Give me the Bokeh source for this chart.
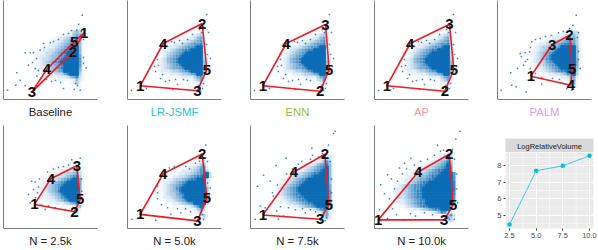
from bokeh.embed import file_html
from bokeh.resources import INLINE
from bokeh.core.properties import value
from bokeh.models import Range1d, Title
from bokeh.layouts import column, row
from bokeh.plotting import figure

titles = ["Baseline", "LR-JSMF", "ENN", "AP", "PALM",
          "N = 2.5k", "N = 5.0k", "N = 7.5k", "N = 10.0k"]
title_colors = ["#222222", "#2fc6ca", "#98bc3c", "#f99a94", "#d49ffb",
                "#222222", "#222222", "#222222", "#222222"]
title_shift = [0, 0, 0, 0, 0, 3.5, 3.5, 3.5, 3.5]

vertices = [
    {1: (80.7, 67), 2: (69.4, 47.6), 3: (28.4, 7.6), 4: (43.4, 30.3), 5: (70.7, 57.6)},
    {1: (12.7, 13.7), 2: (74.7, 76), 3: (70, 8.7), 4: (35.7, 56), 5: (79.3, 30)},
    {1: (12.3, 13.7), 2: (69.7, 8.3), 3: (75, 75), 4: (35.7, 56), 5: (78.7, 30)},
    {1: (12.3, 13.7), 2: (70.3, 8.3), 3: (75, 75.3), 4: (35.7, 56), 5: (79.3, 30)},
    {1: (33.3, 23.3), 2: (72, 64.3), 3: (54.7, 55), 4: (73.3, 14.3), 5: (74.7, 31)},
    {1: (31, 24.3), 2: (71, 17), 3: (73.3, 63.3), 4: (47.3, 50.3), 5: (76.7, 29.3)},
    {1: (12.7, 14.3), 2: (74.7, 75.3), 3: (70, 7.7), 4: (35.7, 55.3), 5: (79.3, 30.3)},
    {1: (12.3, 13.7), 2: (74.3, 75), 3: (69.7, 9.3), 4: (43.3, 57), 5: (78.3, 23.7)},
    {1: (3.7, 8.7), 2: (74.7, 75), 3: (69.7, 8.7), 4: (43.7, 57), 5: (78.7, 23.7)},
]
hull_orders = [
    [1, 2, 3, 4, 5, 1], [1, 3, 5, 2, 4, 1], [1, 2, 5, 3, 4, 1], [1, 2, 5, 3, 4, 1],
    [1, 4, 5, 2, 3, 1], [1, 2, 5, 3, 4, 1], [1, 3, 5, 2, 4, 1], [1, 3, 5, 2, 4, 1],
    [1, 3, 5, 2, 4, 1],
]

# point density of each cloud, 0 (empty) to 9 (solid), in 3-unit cells.
# Each entry is {row's lower edge y: digits}; digit i covers x = 15 + 3*i .. 18 + 3*i
dens_base = {
    69: "00000000000000000012210", 66: "00000000000000011245410", 63: "00000000000001112256510",
    60: "00000000000112234578610", 57: "00000000001122345678610", 54: "00000000011223456788510",
    51: "00000000112234567889510", 48: "00000001223345678999510", 45: "00000011233456789999510",
    42: "00000012234556789999610", 39: "00000012334567899999710", 36: "00000112345678999999710",
    33: "00000112334567899999710", 30: "00000012234567899999610", 27: "00000001223456799999510",
    24: "00000000112233468999410", 21: "00000000001112223568310", 18: "00000000000001111125210",
    15: "00000000000000000124100", 12: "00000000000000000012100",
}
dens_a = {
    69: "00000000000000000000110", 66: "00000000000000000012100", 63: "00000000000000001234100",
    60: "00000000000001112356200", 57: "00000000001112234567200", 54: "00000000011223456778300",
    51: "00000000122345677899300", 48: "00000001234567889999200", 45: "00000012345678999999300",
    42: "00000012456789999999300", 39: "00000123567899999999410", 36: "00000123567899999999510",
    33: "00000123456789999999510", 30: "00001123456678999999610", 27: "00000122234456789999500",
    24: "00000011122234456799300", 21: "00000000111112222467200", 18: "00000000000001111346100",
    15: "00000000000000000123100", 12: "00000000000000000012000",
}
dens_c = {
    69: "000000000000000000011", 66: "00000000000000001112331", 63: "00000000000011112234531",
    60: "00000000001112223345641", 57: "00000000011223345677641", 54: "00000000122344567888741",
    51: "00000001234456679999951", 48: "00000001234567899999951", 45: "00000012345678999999951",
    42: "00000012345689999999951", 39: "00000012345789999999961", 36: "00000012344678999999961",
    33: "00000001234567899999961", 30: "00000001223456789999951", 27: "00000000122345678899941",
    24: "00000000001122334578941", 21: "00000000000011112235620", 18: "00000000000000000124610",
    15: "00000000000000000013510", 12: "0000000000000000000141",
}
dens_d = {
    63: "000000000000000001121", 60: "000000000000001112231", 57: "0000000000001122334421",
    54: "0000000000112223445631", 51: "0000000001122334567841", 48: "0000000011233456789961",
    45: "0000000122345678999961", 42: "0000001123456789999961", 39: "0000001223456799999961",
    36: "0000001223456899999951", 33: "0000000122345689999951", 30: "0000000112234578999951",
    27: "0000000011223457899941", 24: "0000000000112223456821", 21: "0000000000000011112451",
    18: "000000000000000001241", 15: "000000000000000000131",
}
dens_e = {
    69: "0000000000000000000121", 66: "0000000000000000001231", 63: "0000000000000000112451",
    60: "0000000000000112234672", 57: "0000000000011222345783", 54: "00000000011122334567893",
    51: "00000000112233456788993", 48: "00000001223445678899931", 45: "00000012234567899999931",
    42: "00000012345678999999931", 39: "00000012345789999999951", 36: "00000112345689999999951",
    33: "00000112344678999999951", 30: "00000012234568999999961", 27: "00000001223456899999961",
    24: "00000000112234567999941", 21: "0000000000111122357941", 18: "000000000000011112463",
    15: "000000000000000001251", 12: "00000000000000000012410", 9: "0000000000000000000131",
}
dens_f = {
    72: "00000000000000000001221", 69: "00000000000000000112431", 66: "00000000000000011235741",
    63: "00000000000001123567851", 60: "00000000000112345678951", 57: "00000000011223456789951",
    54: "00000001122345678899951", 51: "00000011234456789999951", 48: "00000112345678999999951",
    45: "00001123456789999999951", 42: "00011234567899999999961", 39: "00012345678999999999961",
    36: "00012345678999999999971", 33: "00012345678899999999971", 30: "00001234567889999999971",
    27: "00001223456788999999971", 24: "00000112334567889999961", 21: "00000001122345678999951",
    18: "00000000000111223578410", 15: "00000000000000011236620", 12: "00000000000000000125620", 9: "0000000000000000001342",
}
dens_g = {
    75: "0000000000000000001221", 72: "0000000000000000113431", 69: "0000000000000011234631",
    66: "0000000000001123456851", 63: "0000000000112234567961", 60: "0000000011223345678971",
    57: "0000001122334567889971", 54: "00000112233456778999971", 51: "00001122345567889999971",
    48: "00011223456678899999971", 45: "00111234567889999999981", 42: "01123456778899999999981",
    39: "01223456778999999999981", 36: "01223456788999999999981", 33: "01223456788999999999981",
    30: "01233456788999999999971", 27: "01122345678899999999971", 24: "00122345678899999999961",
    21: "00011234567889999999510", 18: "00000111223456788999410", 15: "00000000001111235872100",
    12: "00000000000000111124730", 9: "0000000000000000012641", 6: "0000000000000000000132",
}

# single dots that stand apart from the dense part of each cloud
pts_base = [(4, 9.3), (12.3, 14.3), (21.7, 13.7), (13.3, 26.7), (21.7, 46.7), (26.7, 47), (30, 46.7), (78.7, 84.3), (75.3, 75.3),
            (82.7, 31.7), (76.7, 9.3), (70.7, 10), (60, 11), (33.3, 23.3), (25, 34.3), (31.7, 31), (40, 56), (46.7, 56.7), (36.7, 49.3),
            (65, 66), (73.3, 69.3), (16.7, 19.3), (29, 37), (33, 41), (35, 29), (38, 22), (43, 20), (48, 18), (52, 19), (57, 17),
            (41, 52), (50, 58), (55, 60), (60, 65), (68, 69), (78, 68), (80, 60), (80, 42), (80, 36), (74, 14), (72, 16)]
pts_a = [(79, 85), (81, 67), (76, 73), (4, 9), (50, 15), (45, 10), (19, 11), (44, 58), (55, 56), (28, 28), (33, 21), (38, 18),
         (73, 9), (82, 33), (83, 41), (30, 40), (40, 53), (31, 34), (35, 25), (27, 33), (30, 46), (34, 52), (47, 57), (52, 59),
         (60, 60), (65, 65), (72, 70), (74, 67), (79, 55), (80, 45), (79, 28), (76, 16), (71, 14), (75, 11), (56, 20), (60, 19), (48, 20), (42, 19)]
pts_c = [(78.7, 84.3), (75.3, 74.3), (81, 66.7), (61, 66.7), (42.7, 61), (34.3, 57.7), (22.7, 46), (27.7, 46.7), (32, 47.7),
         (13.3, 26.7), (20, 31), (26, 34.3), (3.7, 9.3), (14.3, 14.3), (18.7, 12.7), (28.7, 7.7), (44.3, 15.3), (82.7, 31),
         (74.3, 9.3), (69.3, 11), (32.7, 31), (38, 26), (30, 40), (33, 52), (38, 60), (48, 63), (54, 64), (66, 68), (72, 71),
         (80, 62), (81, 48), (81, 40), (44, 22), (55, 21), (62, 20), (66, 16), (28, 38), (24, 43)]
pts_d = [(76.7, 71), (68.3, 69.3), (60, 62.7), (55, 61.7), (28.3, 47.7), (31.7, 47), (25, 34.3), (30, 39.3), (26.7, 26), (41.7, 19.3),
         (51.7, 21), (61.7, 19.3), (74, 12.7), (78.3, 37.7), (35, 42), (36, 50), (44, 57), (50, 60), (65, 64), (72, 66), (78, 50),
         (78, 30), (68, 18), (45, 23), (38, 24), (32, 31), (34, 36)]
pts_e = [(78.3, 84.3), (80, 67.7), (4.3, 9.3), (28.3, 8.3), (43.3, 14.3), (53.3, 16), (30, 36), (30, 42.7), (41.7, 61), (46.7, 62.7),
         (58.3, 62.7), (71.7, 6), (81.7, 32.7), (82.7, 41), (33, 52), (38, 55), (30, 30), (34, 24), (40, 21), (50, 20), (58, 20),
         (63, 17), (72, 68), (79, 55), (80, 46), (76, 9), (75, 14), (62, 60), (68, 66)]
pts_f = [(84.7, 98.3), (83, 96), (61.3, 81), (78, 84.3), (79.7, 67.7), (35.7, 71), (25.7, 63.7), (13, 53.7), (7, 42.7), (19.7, 47.7),
         (9.7, 22.7), (4.7, 9.3), (14.7, 21), (28, 9.3), (33, 12.7), (54.7, 16), (74.7, 7.7), (81.3, 24.3), (26.3, 17.7), (23, 32.7),
         (51.3, 67.7), (27, 44), (22, 36), (30, 22), (38, 21), (45, 19), (52, 20), (60, 19), (36, 55), (42, 60), (48, 65), (60, 70),
         (68, 72), (72, 76), (62, 74), (81, 50), (81, 36), (76, 11), (70, 8), (65, 17)]
pts_g = [(85.3, 98.3), (81.3, 90), (63, 84), (69, 79), (36.3, 71), (25, 61), (13, 54.3), (6.3, 44.3), (23, 47.7), (5, 19), (6.3, 7.7),
         (13, 10), (29.7, 8.3), (41, 12.7), (66.3, 6), (79.7, 9.3), (83, 26), (15, 30), (20, 40), (28, 55), (32, 60), (40, 64), (46, 68),
         (53, 70), (60, 74), (66, 78), (78, 80), (80, 70), (82, 55), (82, 40), (18, 20), (22, 14), (36, 15), (50, 16), (58, 14), (75, 9),
         (10, 35), (17, 50), (30, 66)]

densities = [dens_base, dens_a, dens_a, dens_a, dens_c, dens_d, dens_e, dens_f, dens_g]
points = [pts_base, pts_a, pts_a, pts_a, pts_c, pts_d, pts_e, pts_f, pts_g]

# LogRelativeVolume small panel
volume_n = [2.5, 5.0, 7.5, 10.0]
volume_y = [4.43, 7.7, 8.0, 8.61]
volume_xticks = [2.5, 5.0, 7.5, 10.0]
volume_xminor = [3.75, 6.25, 8.75]
volume_yticks = [5, 6, 7, 8]
volume_yminor = [4.5, 5.5, 6.5, 7.5, 8.5]
volume_title = "LogRelativeVolume"

FONT = "Liberation Sans"
BLUE = "#0b6cb5"
RED = "#ee1c25"
AXIS = "#7f7f7f"


def panel(i, width, height, fh):
    p = figure(width=width, height=height, output_backend="svg", toolbar_location=None,
               x_range=Range1d(0, 94), y_range=Range1d(0, fh),
               min_border_left=3, min_border_right=width - 97, min_border_top=0,
               min_border_bottom=height - fh, outline_line_color=None)
    p.grid.visible = False
    for ax in (p.xaxis[0], p.yaxis[0]):
        ax.ticker = []
        ax.axis_line_color = AXIS
        ax.axis_line_width = 1
    p.add_layout(Title(text=titles[i], align="center", offset=title_shift[i], standoff=8,
                       text_color=title_colors[i], text_font=FONT, text_font_style="normal",
                       text_font_size="11.3px"), "below")

    left, bottom, alpha, solid_l, solid_b = [], [], [], [], []
    for y0, digits in densities[i].items():
        for k, ch in enumerate(digits):
            if ch == "9":
                solid_l.append(15 + 3 * k)
                solid_b.append(y0)
            elif ch != "0":
                left.append(15 + 3 * k)
                bottom.append(y0)
                alpha.append((int(ch) / 9) ** 1.4)
    p.quad(left=left, right=[v + 3 for v in left], bottom=bottom, top=[v + 3 for v in bottom],
           fill_color=BLUE, fill_alpha=alpha, line_color=None)
    if solid_l:
        p.quad(left=solid_l, right=[v + 3 for v in solid_l], bottom=solid_b, top=[v + 3 for v in solid_b],
               fill_color=BLUE, line_color=BLUE, line_width=0.8)
    sx, sy = zip(*points[i])
    p.scatter(list(sx), list(sy), marker="square", size=1.5, fill_color=BLUE, fill_alpha=0.8, line_color=None)

    v = vertices[i]
    p.line([v[k][0] for k in hull_orders[i]], [v[k][1] for k in hull_orders[i]], line_color=RED, line_width=1.6)
    keys = sorted(v)
    p.text([v[k][0] for k in keys], [v[k][1] for k in keys], text=[str(k) for k in keys],
           text_font=value(FONT), text_font_size="15px", text_font_style="bold", text_color="#111111",
           text_align="center", text_baseline="middle")
    return p


widths = [124, 123, 124, 123, 104]
top = row(*[panel(i, widths[i], 125, 99) for i in range(5)], spacing=0)

strip = figure(width=104, height=27, output_backend="svg", toolbar_location=None,
               x_range=Range1d(0, 1), y_range=Range1d(0, 1),
               min_border_left=4, min_border_right=5, min_border_top=13, min_border_bottom=0,
               outline_line_color=None, background_fill_color="#D9D9D9", x_axis_location=None, y_axis_location=None)
strip.grid.visible = False
strip.text([0.5], [0.45], text=[volume_title], text_font=value(FONT), text_font_size="7.5px",
           text_color="#1a1a1a", text_align="center", text_baseline="middle")

lp = figure(width=104, height=98, output_backend="svg", toolbar_location=None,
            x_range=Range1d(2.125, 10.375), y_range=Range1d(4.19, 8.81),
            min_border_left=4, min_border_right=5, min_border_top=0, min_border_bottom=22,
            outline_line_color=None, background_fill_color="#EBEBEB")
lp.xgrid.ticker = volume_xticks
lp.ygrid.ticker = volume_yticks
lp.grid.grid_line_color = "white"
lp.grid.grid_line_width = 1
lp.xaxis.ticker = volume_xticks
lp.yaxis.ticker = volume_yticks
lp.xaxis.major_label_overrides = {2.5: "2.5", 5.0: "5.0", 7.5: "7.5", 10.0: "10.0"}
lp.axis.axis_line_color = None
lp.axis.major_tick_line_color = "#333333"
lp.axis.major_tick_in = 0
lp.axis.major_tick_out = 2
lp.axis.minor_tick_line_color = None
lp.axis.major_label_text_color = "#4D4D4D"
lp.axis.major_label_text_font = FONT
lp.axis.major_label_text_font_size = "7.5px"
lp.axis.major_label_standoff = 2
lp.segment(volume_xminor, 4.19, volume_xminor, 8.81, line_color="white", line_width=0.5)
lp.segment(2.125, volume_yminor, 10.375, volume_yminor, line_color="white", line_width=0.5)
lp.line(volume_n, volume_y, line_color="#3fd0d6", line_width=1)
lp.scatter(volume_n, volume_y, marker="circle", size=4.5, fill_color="#00c1cc", line_color=None)

bottom = row(*[panel(5 + i, widths[i], 125, 104) for i in range(4)], column(strip, lp, spacing=0), spacing=0)

root = column(top, bottom, spacing=0)
open("out.html", "w").write(file_html(root, INLINE))
